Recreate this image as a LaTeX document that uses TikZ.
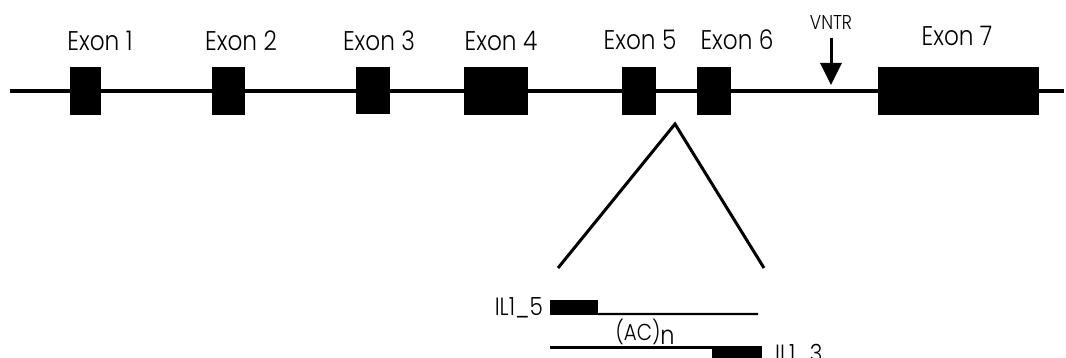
\documentclass[tikz,border=0pt]{standalone}
\usepackage{fontspec}
\setmainfont{Poppins Light}
\usetikzlibrary{arrows.meta}
\newcommand{\nar}[1]{\scalebox{0.86}[1]{#1}}
\begin{document}
\begin{tikzpicture}[x=1pt,y=-1pt,
  exon/.style={fill=black,draw=none,inner sep=0pt,minimum height=48pt},
  lbl/.style={font=\fontsize{27}{27}\selectfont,anchor=base,inner sep=0pt},
  small/.style={font=\fontsize{20}{20}\selectfont,anchor=base,inner sep=0pt},
  gline/.style={line width=3.5pt},
  thin/.style={line width=2.2pt}]
\useasboundingbox (0,0) rectangle (1066,358);
% main line
\coordinate (L) at (10,91);
\coordinate (R) at (1064,91);
\draw[gline] (L) -- (R);
% exons
\node[exon,minimum width=31pt] (e1) at (85,91) {};
\node[exon,minimum width=33pt] (e2) at (228.5,91) {};
\node[exon,minimum width=34pt,minimum height=47pt] (e3) at (373,90.5) {};
\node[exon,minimum width=64pt] (e4) at (495.5,91) {};
\node[exon,minimum width=34pt] (e5) at (639,91) {};
\node[exon,minimum width=34pt] (e6) at (714,91) {};
\node[exon,minimum width=161pt] (e7) at (958.5,91) {};
% labels
\node[lbl] (t1) at (100,51) {\nar{Exon 1}};
\node[lbl] (t2) at (241,51) {\nar{Exon 2}};
\node[lbl] (t3) at (379,51) {\nar{Exon 3}};
\node[lbl] (t4) at (501,51) {\nar{Exon 4}};
\node[lbl] (t5) at (640,50) {\nar{Exon 5}};
\node[lbl] (t6) at (737,50) {\nar{Exon 6}};
\node[lbl] (t7) at (957,46) {\nar{Exon 7}};
\node[small] (vntr) at (831,30) {\nar{VNTR}};
\coordinate (va) at (831,38);
\coordinate (vb) at (831,85);
\draw[line width=3pt,-{Triangle[width=21pt,length=22pt]}] (va) -- (vb);
% zoom triangle
\coordinate (apex) at (675,124);
\coordinate (tl) at (558,268);
\coordinate (tr) at (764,268);
\draw[line width=3pt] (tl) -- (apex) -- (tr);
% primers
\node[fill=black,inner sep=0pt,minimum width=48pt,minimum height=15pt] (p5) at (574,307.5) {};
\coordinate (p5e) at (758,314);
\draw[thin] (p5.south east) ++(0,-1.1) -- (p5e);
\node[lbl,font=\fontsize{25}{25}\selectfont,anchor=base east] (il5) at (543,316) {\nar{IL1\_5}};
\node[font=\fontsize{23}{23}\selectfont,inner sep=0pt,anchor=base] (ac) at (645,340) {\nar{(AC)}\raisebox{-4pt}{\fontsize{26}{26}\selectfont\nar{n}}};
\coordinate (b0) at (550,347);
\node[fill=black,inner sep=0pt,minimum width=50pt,minimum height=12pt,anchor=north east] (p3) at (762,345.5) {};
\draw[line width=3pt] (b0) -- (p3.north east |- b0);
\node[lbl,font=\fontsize{25}{25}\selectfont,anchor=base west] (il3) at (775,362) {\nar{IL1\_3}};
\end{tikzpicture}
\end{document}
